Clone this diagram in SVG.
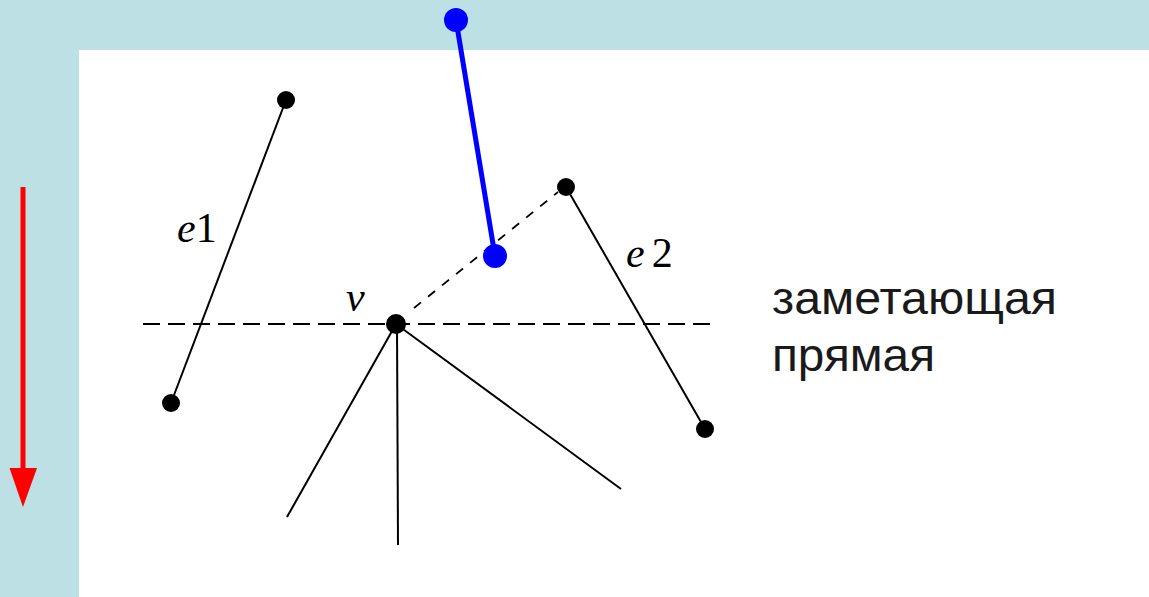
<svg xmlns="http://www.w3.org/2000/svg" width="1149" height="597" viewBox="0 0 1149 597">
<style>
.seg{stroke:#000;stroke-width:2;fill:none}
.dash{stroke:#000;stroke-width:2;stroke-dasharray:17 8;fill:none}
.dot{fill:#000}
.lbl{font-family:"Liberation Serif",serif;font-style:italic;font-size:42px;fill:#000}
.num{font-style:normal}
.rus{font-family:"Liberation Sans",Arial,sans-serif;font-size:46px;fill:#1a1a1a}
</style>
<rect width="1149" height="597" fill="#bce0e3"/>
<rect x="79" y="50" width="1070" height="547" fill="#fff"/>
<g id="sweep-arrow">
<line x1="23" y1="187" x2="23" y2="470" stroke="#ff0000" stroke-width="5"/>
<polygon points="9.5,468 37,468 23,507" fill="#ff0000"/>
</g>
<g id="connectors">
<line class="dash" x1="143" y1="324" x2="710" y2="324"/>
<line class="seg" x1="286" y1="100" x2="171" y2="403"/>
<line class="seg" x1="566" y1="187" x2="705" y2="429"/>
<line class="seg" x1="396" y1="324" x2="287" y2="517"/>
<line class="seg" x1="397" y1="324" x2="398" y2="545"/>
<line class="seg" x1="396" y1="324" x2="621" y2="489"/>
<line x1="414" y1="308" x2="558" y2="192" stroke="#000" stroke-width="1.8" stroke-dasharray="9 9"/>
<line x1="456" y1="20" x2="495" y2="256" stroke="#0000ff" stroke-width="5"/>
</g>
<g id="e1">
<circle class="dot" cx="286" cy="100" r="9"/>
<circle class="dot" cx="171" cy="403" r="9"/>
<text class="lbl" x="177" y="242">e<tspan class="num">1</tspan></text>
</g>
<g id="e2">
<circle class="dot" cx="566" cy="187" r="9"/>
<circle class="dot" cx="705" cy="429" r="9"/>
<text class="lbl" x="626" y="267">e<tspan class="num" dx="7">2</tspan></text>
</g>
<g id="v">
<circle class="dot" cx="396" cy="324" r="10"/>
<text class="lbl" x="346" y="311">v</text>
</g>
<g id="blue">
<circle cx="456" cy="20" r="12" fill="#0000ff"/>
<circle cx="495" cy="256" r="12" fill="#0000ff"/>
</g>
<g id="label">
<text class="rus" x="772" y="314" textLength="285" lengthAdjust="spacingAndGlyphs">заметающая</text>
<text class="rus" x="772" y="371" textLength="163" lengthAdjust="spacingAndGlyphs">прямая</text>
</g>
</svg>
